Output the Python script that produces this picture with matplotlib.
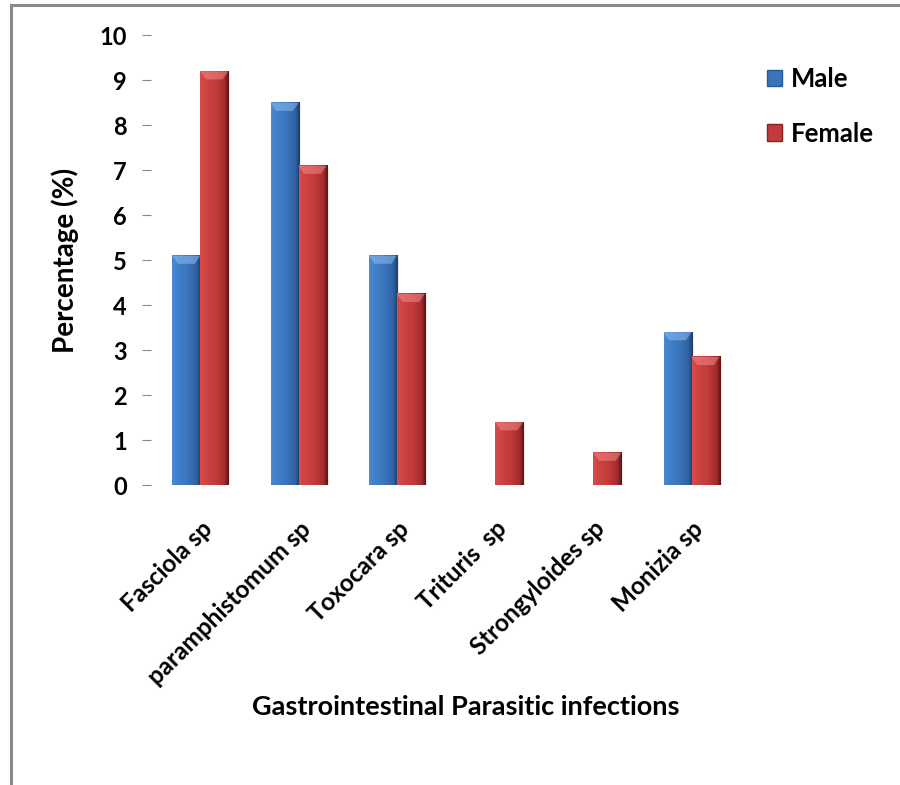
import matplotlib
matplotlib.use("Agg")
import matplotlib.pyplot as plt
import numpy as np
from matplotlib.colors import LinearSegmentedColormap
from matplotlib.patches import Patch, Rectangle

categories = ["Fasciola sp", "paramphistomum sp", "Toxocara sp", "Trituris  sp",
              "Strongyloides sp", "Monizia sp"]
male = [5.1, 8.5, 5.1, 0.0, 0.0, 3.4]
female = [9.2, 7.1, 4.25, 1.4, 0.72, 2.85]
yticks = list(range(0, 11))

plt.rcParams['font.family'] = ['Lato', 'DejaVu Sans']

fig = plt.figure(figsize=(9, 7.85), dpi=100)
ax = fig.add_axes([0.168, 0.382, 0.655, 0.573])

# figure border (left + top visible)
fig.add_artist(plt.Line2D([0.012, 0.012], [0.0, 0.994], color='#8a8a8a', lw=2.2,
                          transform=fig.transFigure))
fig.add_artist(plt.Line2D([0.012, 1.0], [0.994, 0.994], color='#8a8a8a', lw=2.2,
                          transform=fig.transFigure))

x = np.arange(len(categories))
w = 0.285

blue_cmap = LinearSegmentedColormap.from_list(
    'b', [(0, '#4b8ad2'), (0.15, '#4282cc'), (0.55, '#3a74bc'), (0.85, '#2f62a3'), (1.0, '#1d3c68')])
red_cmap = LinearSegmentedColormap.from_list(
    'r', [(0, '#d84c4c'), (0.15, '#d04444'), (0.55, '#c23a3a'), (0.85, '#a42c2c'), (1.0, '#5e1212')])

grad = np.linspace(0, 1, 64).reshape(1, -1)

def draw_bars(xs, vals, cmap, light):
    bars = ax.bar(xs, vals, w, color='none', edgecolor='none', zorder=2)
    for b in bars:
        x0, wd, h = b.get_x(), b.get_width(), b.get_height()
        if h <= 0:
            continue
        # soft shadow
        ax.add_patch(Rectangle((x0 + 0.02, 0), wd, h - 0.02, color='#000000',
                               alpha=0.08, zorder=1, lw=0))
        ax.imshow(grad, extent=[x0, x0 + wd, 0, h], aspect='auto', cmap=cmap,
                  zorder=3, interpolation='bilinear')
        # top bevel highlight
        cap = min(0.18, h * 0.3)
        ax.fill([x0, x0 + wd, x0 + wd * 0.8, x0 + wd * 0.2],
                [h, h, h - cap, h - cap], color=light, alpha=0.55, zorder=4, lw=0)
    return bars

draw_bars(x - w / 2, male, blue_cmap, '#8fbdf0')
draw_bars(x + w / 2, female, red_cmap, '#f08a8a')

ax.set_xlim(-0.5, len(categories) - 0.5)
ax.set_ylim(0, 10)
ax.set_yticks(yticks)
ax.set_yticklabels([str(t) for t in yticks], fontsize=17, fontweight='bold')
ax.tick_params(axis='y', length=6.5, width=0.8, color='#888888', pad=11)
ax.set_xticks(x)
ax.set_xticklabels(categories, rotation=45, ha='right', va='top', rotation_mode='anchor',
                   fontsize=17.5, fontweight='bold')
ax.tick_params(axis='x', length=0, pad=23)
for s in ax.spines.values():
    s.set_visible(False)

fig.text(0.072, 0.668, 'Percentage (%)', rotation=90, ha='center', va='center',
         fontsize=20, fontweight='bold')
fig.text(0.517, 0.0994, 'Gastrointestinal Parasitic infections', ha='center',
         va='center', fontsize=19.5, fontweight='bold')

handles = [Patch(facecolor='#3a74bc', edgecolor='#2a5a95', label='Male'),
           Patch(facecolor='#c23a3a', edgecolor='#8a2222', label='Female')]
fig.legend(handles=handles, loc='upper left', bbox_to_anchor=(0.852, 0.915),
           frameon=False, labelspacing=1.2, handlelength=0.6,
           handleheight=0.6, handletextpad=0.35, borderpad=0, borderaxespad=0,
           prop={'weight': 'bold', 'size': 18.5})

fig.savefig('out.png', dpi=100)
